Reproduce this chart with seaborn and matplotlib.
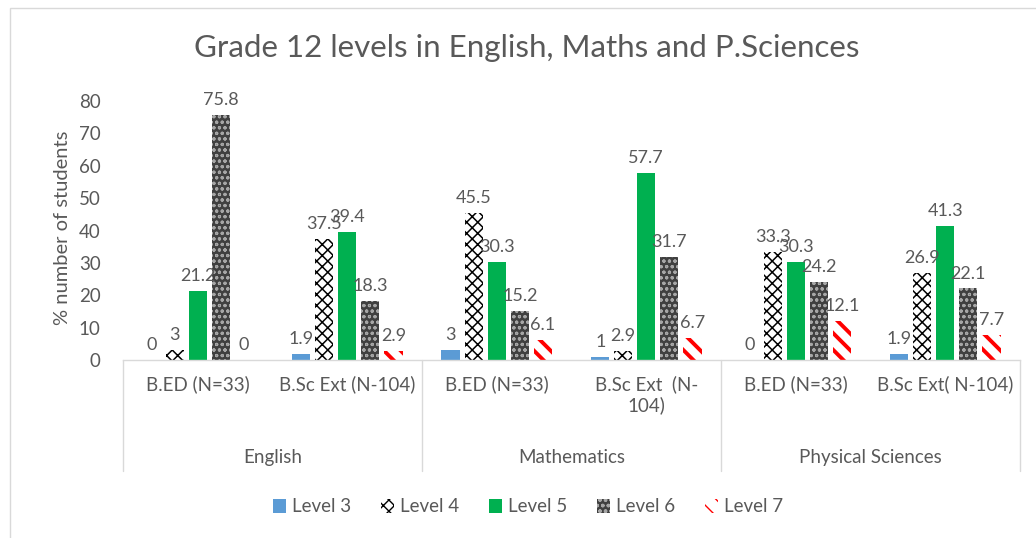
import numpy as np
import pandas as pd
import matplotlib
matplotlib.use("Agg")
import matplotlib.pyplot as plt
import matplotlib.patches as mpatches
import matplotlib.transforms as mtransforms
import seaborn as sns

# -------------------------------------------------------------------------
# Data
# -------------------------------------------------------------------------
SUBJECTS = ["English", "Mathematics", "Physical Sciences"]
COHORT_LABELS = ["B.ED (N=33)", "B.Sc Ext (N-104)",
                 "B.ED (N=33)", "B.Sc Ext  (N-\n104)",
                 "B.ED (N=33)", "B.Sc Ext( N-104)"]
LEVELS = ["Level 3", "Level 4", "Level 5", "Level 6", "Level 7"]

level3 = [0, 1.9, 3, 1, 0, 1.9]
level4 = [3, 37.5, 45.5, 2.9, 33.3, 26.9]
level5 = [21.2, 39.4, 30.3, 57.7, 30.3, 41.3]
level6 = [75.8, 18.3, 15.2, 31.7, 24.2, 22.1]
level7 = [0, 2.9, 6.1, 6.7, 12.1, 7.7]

# styles per level: face, hatch, hatch colour
STYLES = {
    "Level 3": ("#5B9BD5", None, "#5B9BD5"),
    "Level 4": ("#FFFFFF", "xxx", "#000000"),
    "Level 5": ("#00B050", None, "#00B050"),
    "Level 6": ("#404040", "ooo", "#A6A6A6"),
    "Level 7": ("#FFFFFF", "\\\\", "#FF0000"),
}
HATCH_LW = {"Level 4": 1.1, "Level 6": 0.8, "Level 7": 2.8}

TEXT = "#595959"
GRID = "#D9D9D9"

cohort_keys = [f"c{i}" for i in range(len(COHORT_LABELS))]
series = [level3, level4, level5, level6, level7]
rows = []
for lvl, vals in zip(LEVELS, series):
    for key, v in zip(cohort_keys, vals):
        rows.append({"cohort": key, "level": lvl, "value": v})
df = pd.DataFrame(rows)

# -------------------------------------------------------------------------
# Plot
# -------------------------------------------------------------------------
sns.set_theme(style="white")
plt.rcParams["font.family"] = ["Lato", "DejaVu Sans"]

fig = plt.figure(figsize=(10.36, 5.38), dpi=100)
ax = fig.add_axes([123 / 1036, 1 - 360 / 538, (1020 - 123) / 1036, 259 / 538])

sns.barplot(data=df, x="cohort", y="value", hue="level", order=cohort_keys,
            hue_order=LEVELS, palette=[STYLES[l][0] for l in LEVELS],
            width=0.77, gap=0.2, legend=False, ax=ax)

for lvl, cont in zip(LEVELS, ax.containers):
    face, hatch, hcol = STYLES[lvl]
    for p in cont.patches:
        p.set_facecolor(face)
        p.set_edgecolor(hcol)
        p.set_linewidth(0)
        if hatch:
            p.set_hatch(hatch)
            try:
                p.set_hatch_linewidth(HATCH_LW[lvl])
            except AttributeError:
                pass
    ax.bar_label(cont, labels=[f"{v:g}" for v in cont.datavalues],
                 padding=5, fontsize=13, color=TEXT)

ax.set_ylim(0, 80)
ax.set_xlim(-0.5, len(cohort_keys) - 0.5)
ax.set_yticks(range(0, 81, 10))
ax.set_xticks(range(len(cohort_keys)))
ax.set_xticklabels(COHORT_LABELS, fontsize=13.5, color=TEXT)
ax.tick_params(axis="x", length=0, pad=11)
ax.tick_params(axis="y", length=0, pad=16, labelsize=13.5, labelcolor=TEXT)
ax.set_xlabel("")
ax.set_ylabel("")
for s in ["left", "right", "top"]:
    ax.spines[s].set_visible(False)
ax.spines["bottom"].set_color(GRID)
ax.spines["bottom"].set_linewidth(1)

# multi-level category axis
trans = mtransforms.blended_transform_factory(ax.transData, ax.transAxes)
for xb in [-0.5, 1.5, 3.5, 5.5]:
    ax.plot([xb, xb], [0, -0.43], transform=trans, color=GRID, lw=1,
            clip_on=False)
for i, subj in enumerate(SUBJECTS):
    ax.text(2 * i + 0.5, -0.378, subj, transform=trans, ha="center",
            va="center", fontsize=13.5, color=TEXT)

fig.text(62 / 1036, 1 - 228 / 538, "% number of students", rotation=90,
         ha="center", va="center", fontsize=14.5, color=TEXT)
fig.text(527 / 1036, 1 - 48 / 538, "Grade 12 levels in English, Maths and P.Sciences",
         ha="center", va="center", fontsize=22.5, color=TEXT)

handles = []
for lvl in LEVELS:
    face, hatch, hcol = STYLES[lvl]
    handles.append(mpatches.Patch(facecolor=face, edgecolor=hcol, hatch=hatch,
                                  linewidth=0, label=lvl))
fig.legend(handles=handles, loc="center", bbox_to_anchor=(528 / 1036, 1 - 507 / 538),
           ncol=5, frameon=False, fontsize=13.5, labelcolor=TEXT,
           handlelength=0.7, handleheight=0.7, handletextpad=0.3, columnspacing=1.6)

# chart area border
fig.patches.append(mpatches.Rectangle((10 / 1036, -0.1), 1.2, 1.1 - 8 / 538,
                                      transform=fig.transFigure, fill=False,
                                      edgecolor=GRID, lw=1))

fig.savefig("out.png", dpi=100)
